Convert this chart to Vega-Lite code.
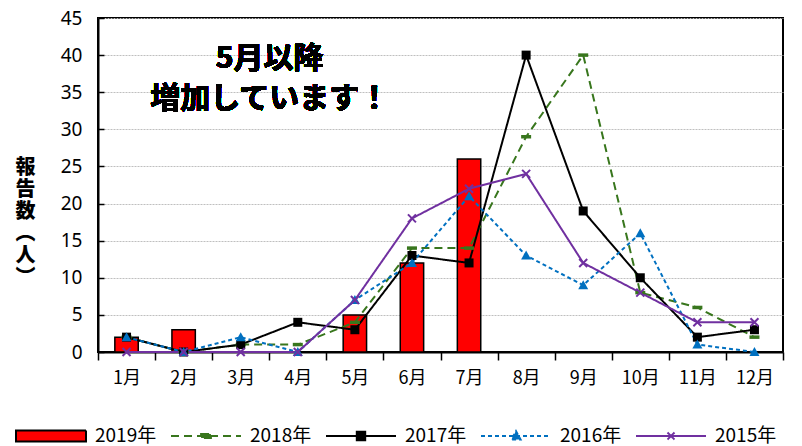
{
  "$schema": "https://vega.github.io/schema/vega-lite/v6.json",
  "width": 685,
  "height": 334,
  "autosize": "none",
  "padding": {"left": 98, "top": 18, "right": 19, "bottom": 94},
  "background": "white",
  "config": {
    "view": {"stroke": "black", "strokeWidth": 2},
    "font": "Noto Sans CJK JP"
  },
  "data": {
    "values": [
      {"month": "1月", "year": "2019年", "value": 2},
      {"month": "2月", "year": "2019年", "value": 3},
      {"month": "3月", "year": "2019年", "value": 0},
      {"month": "4月", "year": "2019年", "value": 0},
      {"month": "5月", "year": "2019年", "value": 5},
      {"month": "6月", "year": "2019年", "value": 12},
      {"month": "7月", "year": "2019年", "value": 26},
      {"month": "1月", "year": "2018年", "value": 2},
      {"month": "2月", "year": "2018年", "value": 0},
      {"month": "3月", "year": "2018年", "value": 1},
      {"month": "4月", "year": "2018年", "value": 1},
      {"month": "5月", "year": "2018年", "value": 4},
      {"month": "6月", "year": "2018年", "value": 14},
      {"month": "7月", "year": "2018年", "value": 14},
      {"month": "8月", "year": "2018年", "value": 29},
      {"month": "9月", "year": "2018年", "value": 40},
      {"month": "10月", "year": "2018年", "value": 8},
      {"month": "11月", "year": "2018年", "value": 6},
      {"month": "12月", "year": "2018年", "value": 2},
      {"month": "1月", "year": "2017年", "value": 2},
      {"month": "2月", "year": "2017年", "value": 0},
      {"month": "3月", "year": "2017年", "value": 1},
      {"month": "4月", "year": "2017年", "value": 4},
      {"month": "5月", "year": "2017年", "value": 3},
      {"month": "6月", "year": "2017年", "value": 13},
      {"month": "7月", "year": "2017年", "value": 12},
      {"month": "8月", "year": "2017年", "value": 40},
      {"month": "9月", "year": "2017年", "value": 19},
      {"month": "10月", "year": "2017年", "value": 10},
      {"month": "11月", "year": "2017年", "value": 2},
      {"month": "12月", "year": "2017年", "value": 3},
      {"month": "1月", "year": "2016年", "value": 2},
      {"month": "2月", "year": "2016年", "value": 0},
      {"month": "3月", "year": "2016年", "value": 2},
      {"month": "4月", "year": "2016年", "value": 0},
      {"month": "5月", "year": "2016年", "value": 7},
      {"month": "6月", "year": "2016年", "value": 12},
      {"month": "7月", "year": "2016年", "value": 21},
      {"month": "8月", "year": "2016年", "value": 13},
      {"month": "9月", "year": "2016年", "value": 9},
      {"month": "10月", "year": "2016年", "value": 16},
      {"month": "11月", "year": "2016年", "value": 1},
      {"month": "12月", "year": "2016年", "value": 0},
      {"month": "1月", "year": "2015年", "value": 0},
      {"month": "2月", "year": "2015年", "value": 0},
      {"month": "3月", "year": "2015年", "value": 0},
      {"month": "4月", "year": "2015年", "value": 0},
      {"month": "5月", "year": "2015年", "value": 7},
      {"month": "6月", "year": "2015年", "value": 18},
      {"month": "7月", "year": "2015年", "value": 22},
      {"month": "8月", "year": "2015年", "value": 24},
      {"month": "9月", "year": "2015年", "value": 12},
      {"month": "10月", "year": "2015年", "value": 8},
      {"month": "11月", "year": "2015年", "value": 4},
      {"month": "12月", "year": "2015年", "value": 4}
    ]
  },
  "encoding": {
    "x": {
      "field": "month", "type": "nominal", "sort": null,
      "scale": {"domain": ["1月","2月","3月","4月","5月","6月","7月","8月","9月","10月","11月","12月"], "paddingInner": 0, "paddingOuter": 0},
      "axis": {
        "title": null, "labelAngle": 0, "labelFontSize": 18, "labelColor": "black",
        "labelPadding": 9, "tickBand": "extent", "tickSize": 8, "tickColor": "black", "tickWidth": 1.5,
        "domainColor": "black", "domainWidth": 2, "grid": false
      }
    },
    "y": {
      "field": "value", "type": "quantitative",
      "scale": {"domain": [0, 45], "nice": false},
      "axis": {
        "values": [0,5,10,15,20,25,30,35,40,45],
        "labelFontSize": 19, "labelColor": "black", "labelPadding": 22,
        "ticks": true, "tickSize": -6, "tickColor": "black", "tickWidth": 1.5,
        "labelFont": "Noto Sans",
        "domainColor": "black", "domainWidth": 2,
        "gridColor": "#bfbfbf", "gridDash": [2, 1], "gridWidth": 1,
        "title": ["報", "告", "数", "︵", "人", "︶"],
        "titleAngle": 0, "titleX": -73, "titleY": 149, "titleAlign": "center", "titleBaseline": "middle",
        "titleFontSize": 20, "titleFontWeight": 900, "titleLineHeight": 22, "titleColor": "black"
      }
    }
  },
  "layer": [
    {
      "transform": [{"filter": "datum.year === '2019年'"}],
      "mark": {"type": "bar", "width": {"band": 0.41}, "stroke": "black", "strokeWidth": 1.5},
      "encoding": {
        "fill": {
          "field": "year", "type": "nominal",
          "scale": {"domain": ["2019年","2018年","2017年","2016年","2015年"], "range": ["#ff0000","#38761d","#000000","#0070c0","#7030a0"]},
          "legend": {
            "title": null, "orient": "none", "legendX": -83, "legendY": 382, "direction": "horizontal", "columns": 5,
            "labelFontSize": 19, "labelColor": "black", "labelOffset": 8, "columnPadding": 10,
            "symbolSize": 4900, "symbolStrokeWidth": 2, "symbolOpacity": 1, "labelLimit": 200
          }
        }
      }
    },
    {
      "transform": [{"filter": "datum.year !== '2019年'"}],
      "mark": {"type": "line", "strokeWidth": 2},
      "encoding": {
        "stroke": {
          "field": "year", "type": "nominal",
          "scale": {"domain": ["2019年","2018年","2017年","2016年","2015年"], "range": ["#000000","#38761d","#000000","#0070c0","#7030a0"]},
          "legend": {"title": null}
        },
        "strokeDash": {
          "field": "year", "type": "nominal",
          "scale": {"domain": ["2019年","2018年","2017年","2016年","2015年"], "range": [[1,0],[8,5],[1,0],[4,3],[1,0]]},
          "legend": {"title": null}
        }
      }
    },
    {
      "transform": [{"filter": "false"}],
      "mark": {"type": "point", "filled": true},
      "encoding": {
        "shape": {
          "field": "year", "type": "nominal",
          "scale": {"domain": ["2019年","2018年","2017年","2016年","2015年"], "range": ["M-1,-0.16H1V0.16H-1Z", "M-1,0H1M-0.14,-0.06H0.14V0.06H-0.14Z", "M-1,0H1M-0.12,-0.12H0.12V0.12H-0.12Z", "M-1,0H1M0,-0.14L0.13,0.1H-0.13Z", "M-1,0H1M-0.1,-0.1L0.1,0.1M0.1,-0.1L-0.1,0.1"]},
          "legend": {"title": null}
        }
      }
    },
    {
      "transform": [{"filter": "datum.year === '2018年'"}],
      "mark": {"type": "point", "filled": true, "opacity": 1, "size": 100, "color": "#38761d", "shape": "M-1,-0.35H1V0.35H-1Z"},
      "encoding": {}
    },
    {
      "transform": [{"filter": "datum.year === '2017年'"}],
      "mark": {"type": "point", "filled": true, "opacity": 1, "size": 100, "color": "#000000", "shape": "M-0.9,-0.9H0.9V0.9H-0.9Z"},
      "encoding": {}
    },
    {
      "transform": [{"filter": "datum.year === '2016年'"}],
      "mark": {"type": "point", "filled": true, "opacity": 1, "size": 100, "color": "#0070c0", "shape": "M0,-1L1,0.8H-1Z"},
      "encoding": {}
    },
    {
      "transform": [{"filter": "datum.year === '2015年'"}],
      "mark": {"type": "point", "filled": false, "opacity": 1, "size": 100, "strokeWidth": 2, "color": "#7030a0", "shape": "M-0.8,-0.8L0.8,0.8M0.8,-0.8L-0.8,0.8"},
      "encoding": {}
    },
    {
      "mark": {"type": "text", "fontSize": 30, "fontWeight": "bold", "lineHeight": 40, "align": "center", "baseline": "middle", "dx": 29, "color": "black"},
      "encoding": {
        "x": {"datum": "3月"},
        "y": {"datum": 39.5},
        "text": {"value": ["5月以降", "増加しています！"]}
      }
    }
  ]
}
